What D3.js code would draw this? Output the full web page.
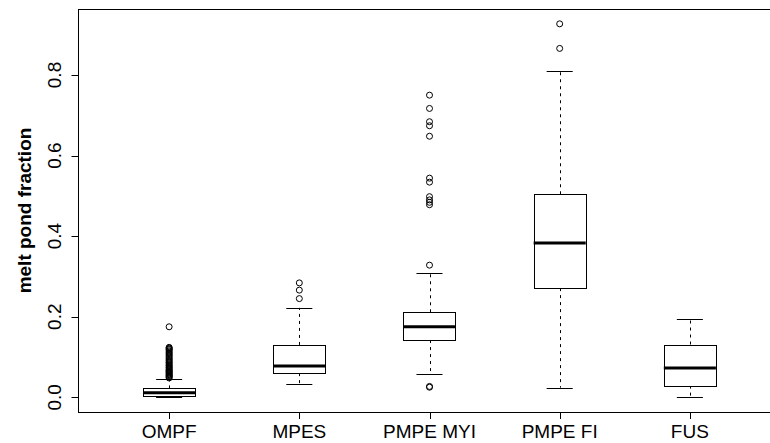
<!DOCTYPE html>
<html>
<head>
<meta charset="utf-8">
<script src="https://cdn.jsdelivr.net/npm/d3@7"></script>
<style>
  body { margin: 0; background: #fff; }
  svg text { font-family: "Liberation Sans", Arial, sans-serif; fill: #000; }
</style>
</head>
<body>
<svg width="770" height="443"></svg>
<script>
// box statistics
var categories   = ["OMPF", "MPES", "PMPE MYI", "PMPE FI", "FUS"];
var lowWhisker   = [0.000, 0.033, 0.057, 0.024, 0.000];
var lowerQuart   = [0.004, 0.060, 0.142, 0.271, 0.029];
var medians      = [0.011, 0.078, 0.175, 0.383, 0.073];
var upperQuart   = [0.022, 0.130, 0.211, 0.504, 0.131];
var highWhisker  = [0.045, 0.222, 0.308, 0.811, 0.195];

var outliersOMPF = [0.048, 0.050, 0.052, 0.054, 0.056, 0.058, 0.060, 0.062, 0.064,
                    0.066, 0.068, 0.070, 0.073, 0.075, 0.078, 0.080, 0.083, 0.086,
                    0.088, 0.091, 0.094, 0.097, 0.100, 0.103, 0.106, 0.109, 0.112,
                    0.115, 0.118, 0.120, 0.122, 0.124, 0.175];
var outliersMPES = [0.245, 0.266, 0.284];
var outliersMYI  = [0.025, 0.027, 0.328, 0.478, 0.484, 0.490, 0.498, 0.534, 0.544,
                    0.648, 0.674, 0.684, 0.717, 0.750];
var outliersFI   = [0.866, 0.927];
var outliersFUS  = [];
var outliers = [outliersOMPF, outliersMPES, outliersMYI, outliersFI, outliersFUS];

var yTicks = [0, 0.2, 0.4, 0.6, 0.8];

var svg = d3.select("svg");
var plot = {left: 78, top: 9, bottom: 412, right: 781};

// R style: 0.5..n+0.5 widened by 4%
var x = d3.scaleLinear().domain([0.3, 5.7]).range([plot.left, plot.right]);
var y = d3.scaleLinear().domain([0, 0.8]).range([397.3, 75]);
var boxW = x(1.4) - x(1);
var capW = boxW / 2;

var boxes = categories.map(function(c, i) {
    return {name: c, pos: i + 1, lo: lowWhisker[i], q1: lowerQuart[i], med: medians[i],
            q3: upperQuart[i], hi: highWhisker[i], out: outliers[i]};
});

var g = svg.selectAll(".box")
    .data(boxes).enter().append("g")
        .attr("class", "box");

// dashed whiskers
g.append("line")
    .attr("x1", function(d) { return Math.round(x(d.pos)) + 0.5; })
    .attr("x2", function(d) { return Math.round(x(d.pos)) + 0.5; })
    .attr("y1", function(d) { return y(d.q3); })
    .attr("y2", function(d) { return y(d.hi); })
    .attr("stroke", "#000").attr("stroke-dasharray", "3,4");
g.append("line")
    .attr("x1", function(d) { return Math.round(x(d.pos)) + 0.5; })
    .attr("x2", function(d) { return Math.round(x(d.pos)) + 0.5; })
    .attr("y1", function(d) { return y(d.q1); })
    .attr("y2", function(d) { return y(d.lo); })
    .attr("stroke", "#000").attr("stroke-dasharray", "3,4");

// staples
["hi", "lo"].forEach(function(k) {
    g.append("line")
        .attr("x1", function(d) { return x(d.pos) - capW / 2; })
        .attr("x2", function(d) { return x(d.pos) + capW / 2; })
        .attr("y1", function(d) { return Math.round(y(d[k])) + 0.5; })
        .attr("y2", function(d) { return Math.round(y(d[k])) + 0.5; })
        .attr("stroke", "#000");
});

g.append("rect")
    .attr("x", function(d) { return Math.round(x(d.pos) - boxW / 2) + 0.5; })
    .attr("y", function(d) { return Math.round(y(d.q3)) + 0.5; })
    .attr("width", Math.round(boxW))
    .attr("height", function(d) { return Math.round(y(d.q1)) - Math.round(y(d.q3)); })
    .attr("fill", "#fff").attr("stroke", "#000");

g.append("line")
    .attr("x1", function(d) { return x(d.pos) - boxW / 2; })
    .attr("x2", function(d) { return x(d.pos) + boxW / 2; })
    .attr("y1", function(d) { return y(d.med); })
    .attr("y2", function(d) { return y(d.med); })
    .attr("stroke", "#000").attr("stroke-width", 3);

g.selectAll("circle")
    .data(function(d) { return d.out.map(function(v) { return {pos: d.pos, v: v}; }); })
    .enter().append("circle")
        .attr("cx", function(d) { return x(d.pos); })
        .attr("cy", function(d) { return y(d.v); })
        .attr("r", 3)
        .attr("fill", "none").attr("stroke", "#000");

// frame
svg.append("rect")
    .attr("x", plot.left + 0.5).attr("y", plot.top + 0.5)
    .attr("width", plot.right - plot.left).attr("height", plot.bottom - plot.top)
    .attr("fill", "none").attr("stroke", "#000");

// y axis
var yAxis = svg.append("g")
    .attr("transform", "translate(" + (plot.left + 0.5) + ",0)");
yAxis.append("line")
    .attr("y1", y(0)).attr("y2", y(0.8)).attr("stroke", "#000");
yAxis.selectAll(".ytick")
    .data(yTicks).enter().append("line")
        .attr("x1", -7).attr("x2", 0)
        .attr("y1", function(d) { return Math.round(y(d)) + 0.5; })
        .attr("y2", function(d) { return Math.round(y(d)) + 0.5; })
        .attr("stroke", "#000");
svg.selectAll(".ylab")
    .data(yTicks).enter().append("text")
        .attr("transform", function(d) { return "translate(61," + y(d) + ") rotate(-90)"; })
        .attr("text-anchor", "middle")
        .style("font-size", "19px")
        .text(function(d) { return d3.format(".1f")(d); });

// x axis ticks and labels
svg.selectAll(".xtick")
    .data(boxes).enter().append("line")
        .attr("x1", function(d) { return Math.round(x(d.pos)) + 0.5; })
        .attr("x2", function(d) { return Math.round(x(d.pos)) + 0.5; })
        .attr("y1", plot.bottom).attr("y2", plot.bottom + 7)
        .attr("stroke", "#000");
svg.selectAll(".xlab")
    .data(boxes).enter().append("text")
        .attr("x", function(d) { return x(d.pos); })
        .attr("y", 438)
        .attr("text-anchor", "middle")
        .style("font-size", "19px")
        .text(function(d) { return d.name; });

svg.append("text")
    .attr("transform", "translate(31," + ((plot.top + plot.bottom) / 2) + ") rotate(-90)")
    .attr("text-anchor", "middle")
    .style("font-size", "19px").style("font-weight", "bold")
    .text("melt pond fraction");
</script>
</body>
</html>
